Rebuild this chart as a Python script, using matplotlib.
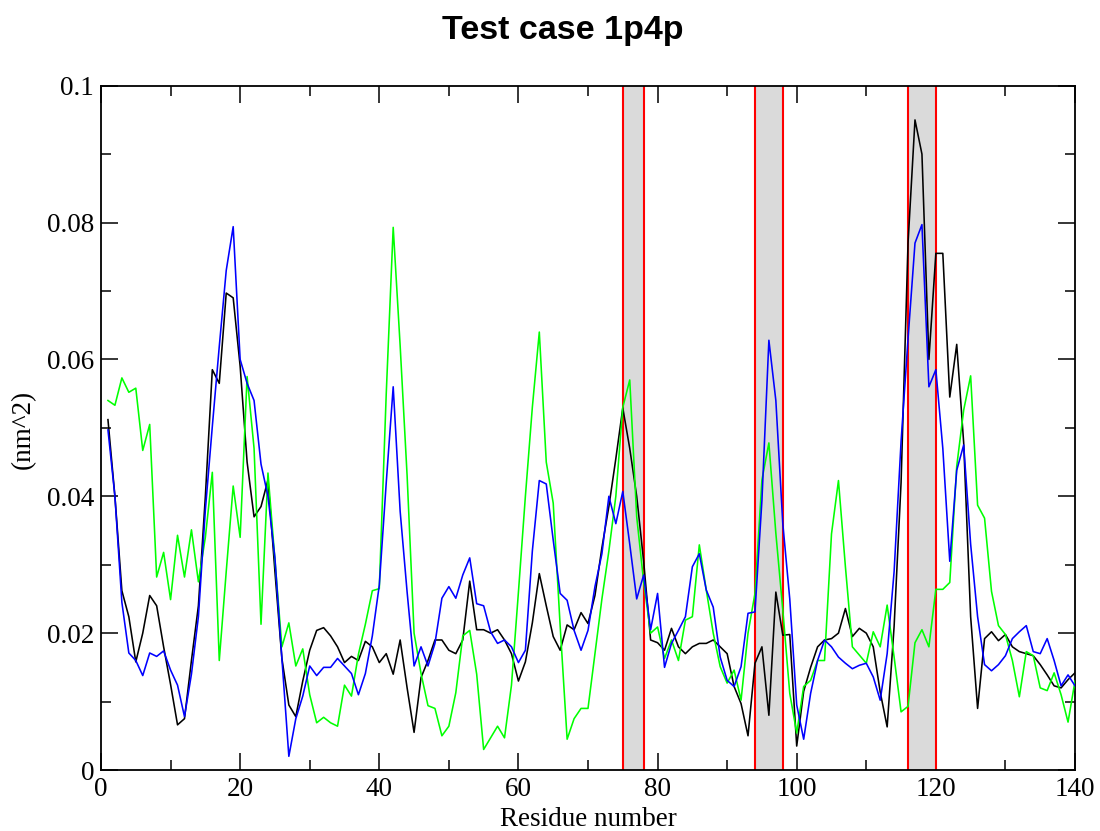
import numpy as np
import matplotlib
matplotlib.use("Agg")
import matplotlib.pyplot as plt
from matplotlib.ticker import MultipleLocator, FuncFormatter

# Per-residue values (nm^2) for residues 1..140
residues = np.arange(1, 141)

black_vals = [
    0.0512, 0.0400, 0.0262, 0.0224, 0.0158, 0.0200, 0.0255, 0.0240, 0.0180, 0.0125,
    0.0066, 0.0075, 0.0160, 0.0240, 0.0400, 0.0585, 0.0565, 0.0697, 0.0690, 0.0590,
    0.0450, 0.0370, 0.0385, 0.0424, 0.0290, 0.0163, 0.0095, 0.0078, 0.0130, 0.0175,
    0.0204, 0.0208, 0.0196, 0.0180, 0.0157, 0.0166, 0.0160, 0.0188, 0.0180, 0.0157,
    0.0170, 0.0140, 0.0190, 0.0120, 0.0055, 0.0135, 0.0160, 0.0190, 0.0190, 0.0175,
    0.0170, 0.0190, 0.0276, 0.0205, 0.0205, 0.0200, 0.0205, 0.0190, 0.0170, 0.0130,
    0.0158, 0.0215, 0.0287, 0.0240, 0.0195, 0.0175, 0.0212, 0.0205, 0.0230, 0.0214,
    0.0255, 0.0325, 0.0385, 0.0455, 0.0529, 0.0470, 0.0400, 0.0305, 0.0190, 0.0186,
    0.0175, 0.0207, 0.0180, 0.0170, 0.0180, 0.0185, 0.0185, 0.0190, 0.0180, 0.0170,
    0.0122, 0.0097, 0.0050, 0.0156, 0.0180, 0.0080, 0.0260, 0.0197, 0.0198, 0.0035,
    0.0115, 0.0150, 0.0180, 0.0190, 0.0192, 0.0200, 0.0236, 0.0195, 0.0207, 0.0200,
    0.0180, 0.0114, 0.0063, 0.0210, 0.0420, 0.0770, 0.0950, 0.0900, 0.0600, 0.0755,
    0.0755, 0.0545, 0.0622, 0.0478, 0.0224, 0.0090, 0.0192, 0.0202, 0.0189, 0.0198,
    0.0180, 0.0173, 0.0170, 0.0167, 0.0154, 0.0139, 0.0123, 0.0120, 0.0132, 0.0142,
]

blue_vals = [
    0.0497, 0.0400, 0.0245, 0.0171, 0.0160, 0.0138, 0.0171, 0.0166, 0.0174, 0.0146,
    0.0124, 0.0078, 0.0140, 0.0224, 0.0380, 0.0502, 0.0619, 0.0730, 0.0794, 0.0600,
    0.0565, 0.0540, 0.0447, 0.0400, 0.0310, 0.0163, 0.0020, 0.0075, 0.0108, 0.0152,
    0.0138, 0.0150, 0.0150, 0.0163, 0.0152, 0.0141, 0.0110, 0.0141, 0.0196, 0.0270,
    0.0420, 0.0560, 0.0378, 0.0260, 0.0152, 0.0180, 0.0152, 0.0185, 0.0251, 0.0268,
    0.0251, 0.0285, 0.0310, 0.0243, 0.0240, 0.0202, 0.0185, 0.0190, 0.0180, 0.0157,
    0.0175, 0.0320, 0.0423, 0.0418, 0.0336, 0.0258, 0.0248, 0.0204, 0.0175, 0.0204,
    0.0268, 0.0316, 0.0400, 0.0360, 0.0407, 0.0330, 0.0250, 0.0285, 0.0205, 0.0258,
    0.0150, 0.0185, 0.0204, 0.0224, 0.0297, 0.0316, 0.0263, 0.0238, 0.0165, 0.0131,
    0.0122, 0.0151, 0.0229, 0.0231, 0.0394, 0.0628, 0.0540, 0.0360, 0.0250, 0.0095,
    0.0045, 0.0112, 0.0160, 0.0190, 0.0180, 0.0165, 0.0156, 0.0148, 0.0153, 0.0156,
    0.0136, 0.0102, 0.0170, 0.0290, 0.0480, 0.0630, 0.0770, 0.0797, 0.0560, 0.0585,
    0.0470, 0.0305, 0.0438, 0.0475, 0.0330, 0.0224, 0.0154, 0.0145, 0.0154, 0.0167,
    0.0192, 0.0202, 0.0211, 0.0173, 0.0170, 0.0192, 0.0160, 0.0123, 0.0139, 0.0123,
]

green_vals = [
    0.0540, 0.0533, 0.0573, 0.0552, 0.0558, 0.0467, 0.0505, 0.0282, 0.0318, 0.0249,
    0.0343, 0.0282, 0.0351, 0.0275, 0.0340, 0.0435, 0.0160, 0.0290, 0.0415, 0.0340,
    0.0575, 0.0470, 0.0213, 0.0434, 0.0307, 0.0180, 0.0215, 0.0152, 0.0177, 0.0110,
    0.0069, 0.0077, 0.0069, 0.0064, 0.0124, 0.0108, 0.0169, 0.0213, 0.0262, 0.0265,
    0.0550, 0.0793, 0.0620, 0.0430, 0.0200, 0.0141, 0.0094, 0.0090, 0.0050, 0.0064,
    0.0113, 0.0196, 0.0204, 0.0140, 0.0030, 0.0047, 0.0064, 0.0047, 0.0124, 0.0260,
    0.0400, 0.0530, 0.0640, 0.0450, 0.0390, 0.0210, 0.0045, 0.0075, 0.0090, 0.0090,
    0.0170, 0.0250, 0.0320, 0.0400, 0.0530, 0.0570, 0.0370, 0.0275, 0.0200, 0.0209,
    0.0163, 0.0190, 0.0160, 0.0219, 0.0224, 0.0329, 0.0263, 0.0200, 0.0151, 0.0127,
    0.0146, 0.0102, 0.0200, 0.0258, 0.0424, 0.0478, 0.0346, 0.0234, 0.0112, 0.0054,
    0.0122, 0.0131, 0.0160, 0.0160, 0.0345, 0.0423, 0.0297, 0.0180, 0.0168, 0.0156,
    0.0202, 0.0180, 0.0241, 0.0165, 0.0085, 0.0093, 0.0186, 0.0205, 0.0180, 0.0264,
    0.0264, 0.0274, 0.0444, 0.0526, 0.0576, 0.0387, 0.0368, 0.0261, 0.0211, 0.0198,
    0.0160, 0.0107, 0.0173, 0.0167, 0.0120, 0.0116, 0.0142, 0.0110, 0.0070, 0.0130,
]

# Highlighted residue ranges
regions = [(75, 78), (94, 98), (116, 120)]

title_text = "Test case 1p4p"
x_label = "Residue number"
y_label = "(nm^2)"

serif = ["Liberation Serif", "DejaVu Serif"]

fig = plt.figure(figsize=(11.0, 8.31), dpi=100)
ax = fig.add_axes([101 / 1100, 1 - 770 / 831, 974 / 1100, 684.3 / 831])

for lo, hi in regions:
    ax.axvspan(lo, hi, facecolor="#dadada", edgecolor="none", zorder=1)
    ax.axvline(lo, color="#ff0000", lw=1.5, zorder=2)
    ax.axvline(hi, color="#ff0000", lw=1.5, zorder=2)

ax.plot(residues, black_vals, color="#000000", lw=1.15, zorder=3)
ax.plot(residues, green_vals, color="#00ff00", lw=1.15, zorder=3)
ax.plot(residues, blue_vals, color="#0000ff", lw=1.15, zorder=4)

ax.set_xlim(0, 140)
ax.set_ylim(0, 0.1)

ax.xaxis.set_major_locator(MultipleLocator(20))
ax.xaxis.set_minor_locator(MultipleLocator(10))
ax.yaxis.set_major_locator(MultipleLocator(0.02))
ax.yaxis.set_minor_locator(MultipleLocator(0.01))
ax.yaxis.set_major_formatter(FuncFormatter(lambda v, p: "%g" % round(v, 4)))

ax.tick_params(which="both", direction="in", top=True, right=True, width=1.1, color="black")
ax.tick_params(which="major", length=12.5)
ax.tick_params(which="minor", length=7)
ax.tick_params(axis="x", which="major", pad=5)
ax.tick_params(axis="y", which="major", pad=5)

for lab in ax.get_xticklabels() + ax.get_yticklabels():
    lab.set_fontfamily(serif)
    lab.set_fontsize(19.5)

for sp in ax.spines.values():
    sp.set_linewidth(1.3)

ax.set_xlabel(x_label, family=serif, fontsize=19.5, va="center")
ax.xaxis.set_label_coords(0.5, -0.073)
ax.set_ylabel(y_label, family=serif, fontsize=19.5, va="center")
ax.yaxis.set_label_coords(-0.080, 0.498)

fig.text(563 / 1100, 1 - 31 / 831, title_text, ha="center", va="center",
         family=["Liberation Sans", "DejaVu Sans"], fontweight="bold", fontsize=24.5)

fig.savefig("out.png", dpi=100, facecolor="white")
